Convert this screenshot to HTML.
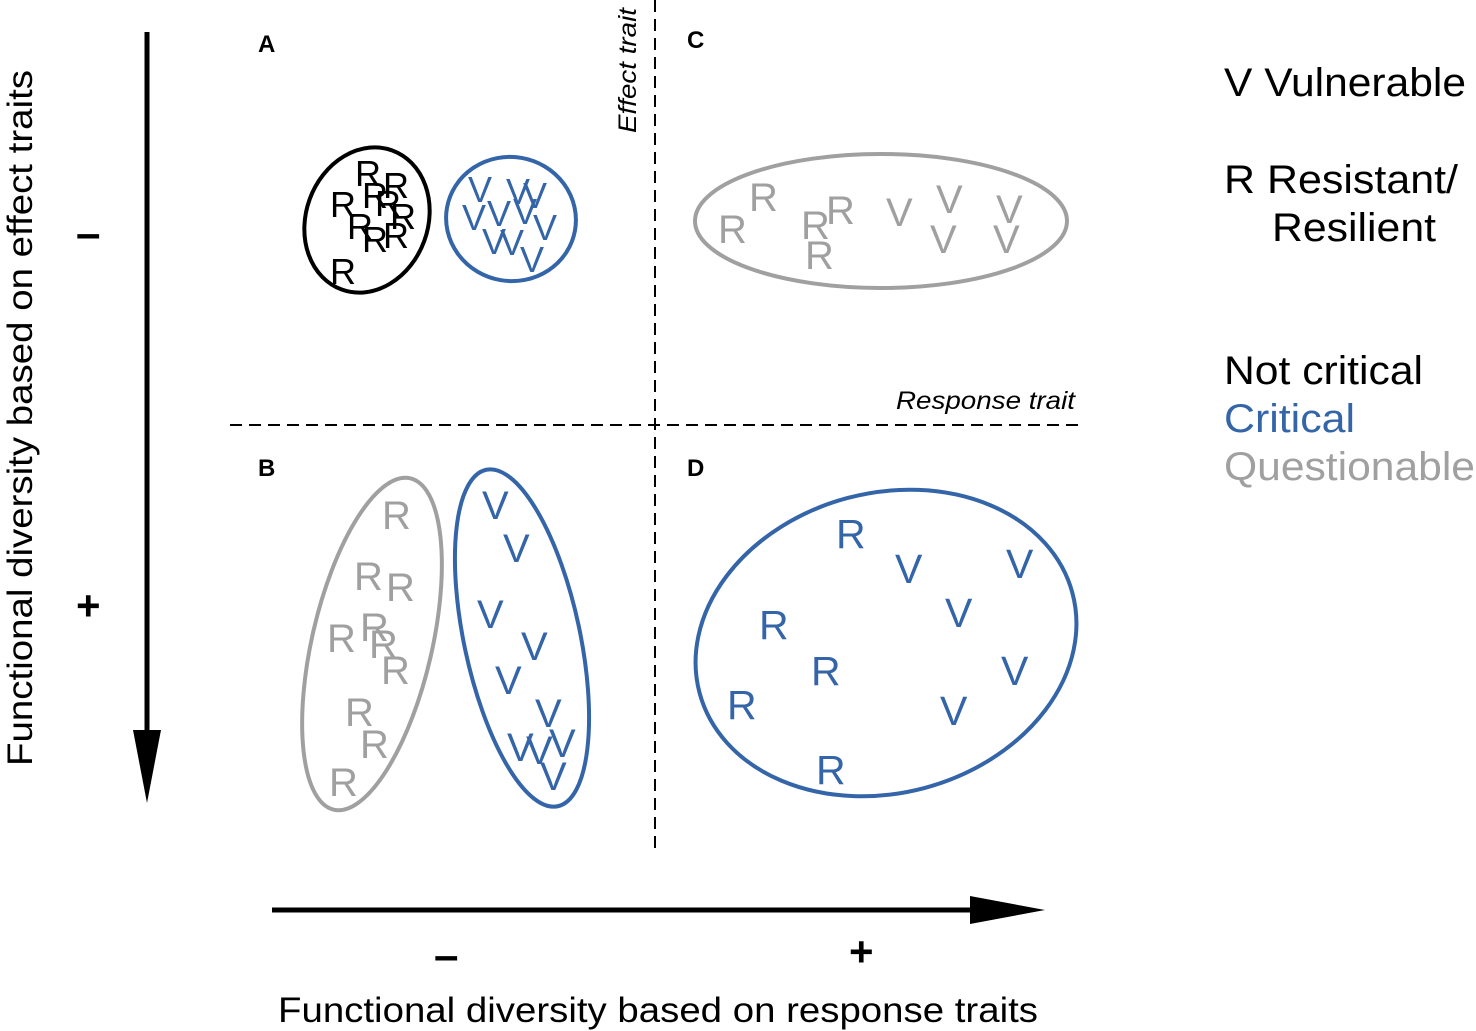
<!DOCTYPE html>
<html><head><meta charset="utf-8"><style>html,body{margin:0;padding:0;background:#fff}svg{display:block}text{font-family:"Liberation Sans",Arial,sans-serif}</style></head><body>
<svg width="1476" height="1031" viewBox="0 0 1476 1031" xmlns="http://www.w3.org/2000/svg">
<line x1="147" y1="32" x2="147" y2="740" stroke="#000" stroke-width="5"/>
<polygon points="133,730 161,730 147,803" fill="#000"/>
<line x1="272" y1="910" x2="980" y2="910" stroke="#000" stroke-width="5"/>
<polygon points="970,896 970,924 1045,910" fill="#000"/>
<line x1="655" y1="0" x2="655" y2="852" stroke="#000" stroke-width="2" stroke-dasharray="12,7"/>
<line x1="230" y1="425" x2="1080" y2="425" stroke="#000" stroke-width="2" stroke-dasharray="12,7"/>
<text x="0" y="0" font-size="25" font-style="italic" textLength="125" lengthAdjust="spacingAndGlyphs" transform="translate(636,133) rotate(-90)">Effect trait</text>
<text x="896" y="409" font-size="25" font-style="italic" textLength="179" lengthAdjust="spacingAndGlyphs">Response trait</text>
<text x="0" y="0" font-size="35" textLength="696" lengthAdjust="spacingAndGlyphs" transform="translate(32,766) rotate(-90)">Functional diversity based on effect traits</text>
<text x="278" y="1022" font-size="35" textLength="760" lengthAdjust="spacingAndGlyphs">Functional diversity based on response traits</text>
<g font-weight="bold"><text x="76" y="248" font-size="44">–</text>
<text x="76" y="620" font-size="42">+</text>
<text x="434" y="970" font-size="44">–</text>
<text x="849" y="966" font-size="42">+</text></g>
<g font-size="24" font-weight="bold"><text x="258" y="52">A</text><text x="687" y="48">C</text><text x="258" y="476">B</text><text x="687" y="476">D</text></g>
<g font-size="40"><text x="1224" y="96" textLength="242" lengthAdjust="spacingAndGlyphs">V Vulnerable</text><text x="1224" y="193" textLength="234" lengthAdjust="spacingAndGlyphs">R Resistant/</text><text x="1272" y="241" textLength="164" lengthAdjust="spacingAndGlyphs">Resilient</text>
<text x="1224" y="384" textLength="199" lengthAdjust="spacingAndGlyphs">Not critical</text><text x="1224" y="432" fill="#3465a8" textLength="131" lengthAdjust="spacingAndGlyphs">Critical</text><text x="1224" y="480" fill="#a0a0a0" textLength="251" lengthAdjust="spacingAndGlyphs">Questionable</text></g>
<ellipse cx="367" cy="220" rx="61" ry="74" transform="rotate(20 367 220)" fill="none" stroke="#000" stroke-width="4"/>
<g font-size="36" fill="#000"><text x="355" y="186">R</text><text x="383" y="198">R</text><text x="362" y="208">R</text><text x="330" y="217">R</text><text x="375" y="216">R</text><text x="390" y="229">R</text><text x="347" y="239">R</text><text x="362" y="252">R</text><text x="383" y="248">R</text><text x="330" y="284">R</text></g>
<ellipse cx="511" cy="219" rx="65" ry="62" transform="rotate(10 511 219)" fill="none" stroke="#3465a8" stroke-width="4"/>
<g font-size="36" fill="#3465a8"><text x="468" y="202">V</text><text x="506" y="204">V</text><text x="523" y="208">V</text><text x="462" y="230">V</text><text x="487" y="226">V</text><text x="513" y="224">V</text><text x="533" y="240">V</text><text x="482" y="254">V</text><text x="500" y="255">V</text><text x="520" y="272">V</text></g>
<ellipse cx="881" cy="221" rx="186" ry="67" fill="none" stroke="#a0a0a0" stroke-width="4"/>
<g font-size="40" fill="#a0a0a0"><text x="718" y="243">R</text><text x="749" y="211">R</text><text x="801" y="239">R</text><text x="826" y="224">R</text><text x="805" y="269">R</text><text x="886" y="226">V</text><text x="936" y="213">V</text><text x="930" y="253">V</text><text x="996" y="223">V</text><text x="993" y="253">V</text></g>
<ellipse cx="372" cy="644" rx="60" ry="170" transform="rotate(13 372 644)" fill="none" stroke="#a0a0a0" stroke-width="4"/>
<g font-size="40" fill="#a0a0a0"><text x="382" y="529">R</text><text x="354" y="590">R</text><text x="386" y="601">R</text><text x="360" y="641">R</text><text x="327" y="652">R</text><text x="369" y="658">R</text><text x="381" y="684">R</text><text x="345" y="726">R</text><text x="360" y="758">R</text><text x="329" y="796">R</text></g>
<ellipse cx="522" cy="638" rx="58" ry="172" transform="rotate(-12 522 638)" fill="none" stroke="#3465a8" stroke-width="4"/>
<g font-size="40" fill="#3465a8"><text x="482" y="519">V</text><text x="503" y="562">V</text><text x="477" y="628">V</text><text x="521" y="660">V</text><text x="495" y="694">V</text><text x="535" y="727">V</text><text x="507" y="761">V</text><text x="549" y="757">V</text><text x="526" y="764">V</text><text x="540" y="790">V</text></g>
<ellipse cx="886" cy="643" rx="193" ry="150" transform="rotate(-15 886 643)" fill="none" stroke="#3465a8" stroke-width="4"/>
<g font-size="41" fill="#3465a8"><text x="836" y="548">R</text><text x="895" y="583">V</text><text x="1006" y="578">V</text><text x="945" y="627">V</text><text x="759" y="639">R</text><text x="811" y="685">R</text><text x="1001" y="685">V</text><text x="727" y="719">R</text><text x="940" y="725">V</text><text x="816" y="784">R</text></g>
</svg>
</body></html>
